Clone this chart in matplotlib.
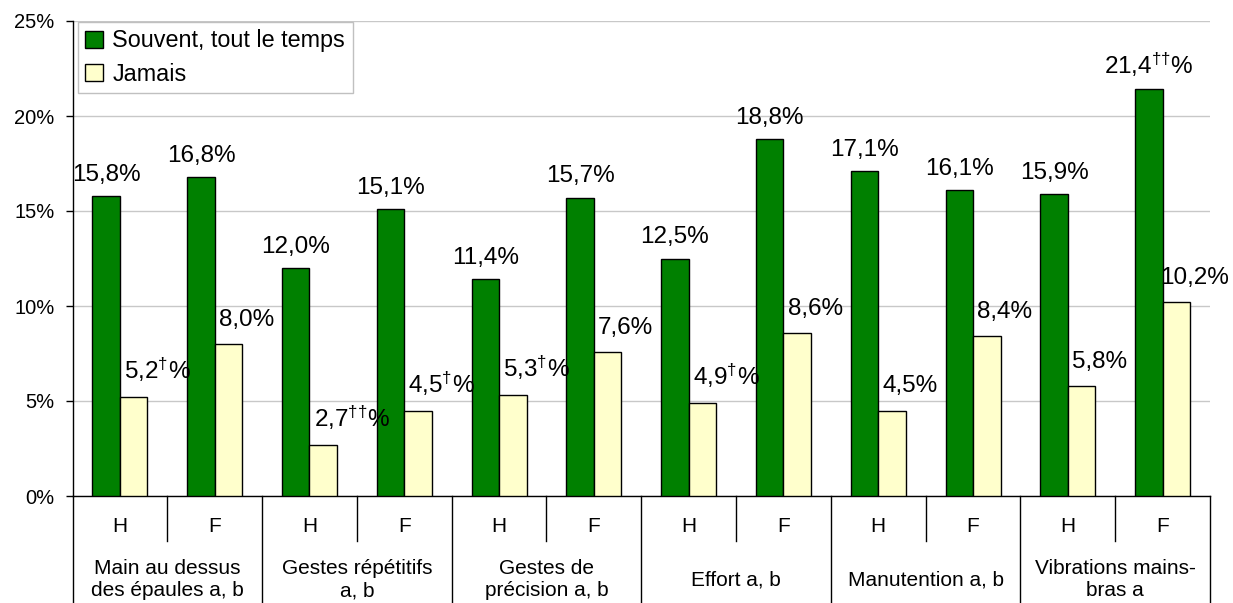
import matplotlib
matplotlib.use("Agg")
import matplotlib.pyplot as plt
import numpy as np

plt.rcParams["font.family"] = ["Liberation Sans", "DejaVu Sans"]
plt.rcParams["mathtext.fontset"] = "custom"
plt.rcParams["mathtext.rm"] = "Liberation Sans"
plt.rcParams["mathtext.it"] = "Liberation Sans"

# DONNÉES
groupes = ["Main au dessus\ndes épaules a, b", "Gestes répétitifs\na, b",
           "Gestes de\nprécision a, b", "Effort a, b", "Manutention a, b",
           "Vibrations mains-\nbras a"]
sexes = ["H", "F"]
souvent = [15.8, 16.8, 12.0, 15.1, 11.4, 15.7, 12.5, 18.8, 17.1, 16.1, 15.9, 21.4]
jamais = [5.2, 8.0, 2.7, 4.5, 5.3, 7.6, 4.9, 8.6, 4.5, 8.4, 5.8, 10.2]
souvent_marque = ["", "", "", "", "", "", "", "", "", "", "", "††"]
jamais_marque = ["†", "", "††", "†", "†", "", "†", "", "", "", "", ""]

W, H = 1233, 603
fig = plt.figure(figsize=(W / 100, H / 100), dpi=100)
left, right, top, bottom = 72.5, 1210, 21, 496
ax = fig.add_axes([left / W, 1 - bottom / H, (right - left) / W, (bottom - top) / H])

x = np.arange(len(souvent))
bw = 0.29
ax.bar(x - bw / 2, souvent, bw, color="#008000", edgecolor="black", lw=1,
       label="Souvent, tout le temps", zorder=3)
ax.bar(x + bw / 2, jamais, bw, color="#FFFFCC", edgecolor="black", lw=1,
       label="Jamais", zorder=3)


def etiquette(v, m):
    s = f"{v:.1f}".replace(".", ",")
    if m:
        s += r"$^{\text{" + m + "}}$"
    return s + "%"


for i in range(len(x)):
    ax.annotate(etiquette(souvent[i], souvent_marque[i]), (x[i] - bw / 2, souvent[i]),
                xytext=(0, 11), textcoords="offset points", ha="center",
                va="baseline", fontsize=17.5)
    # la dernière étiquette touche le bord droit
    dx = 3 if i < len(x) - 1 else -1.5
    ax.annotate(etiquette(jamais[i], jamais_marque[i]), (x[i], jamais[i]),
                xytext=(dx, 13), textcoords="offset points", ha="left",
                va="baseline", fontsize=17.5)

ax.set_xlim(-0.5, len(x) - 0.5)
ax.set_ylim(0, 25)
ax.set_yticks([0, 5, 10, 15, 20, 25])
ax.set_yticklabels([f"{t}%" for t in range(0, 30, 5)])
ax.tick_params(axis="y", length=5, width=1, pad=8, labelsize=14.5, direction="out")
ax.set_xticks([])
ax.grid(axis="y", color="#C8C8C8", lw=1, zorder=0)
ax.set_axisbelow(True)
for s in ["top", "right"]:
    ax.spines[s].set_visible(False)
ax.spines["left"].set_linewidth(1)
ax.spines["bottom"].set_linewidth(1)

# TABLEAU SOUS L'AXE
tr = ax.get_xaxis_transform()
fond = -(H - bottom) / (bottom - top)
sep_court = -(541 - bottom) / (bottom - top)
for b in np.arange(-0.5, len(x), 2):
    ax.plot([b, b], [0, fond], transform=tr, color="black", lw=1, clip_on=False)
for b in np.arange(0.5, len(x), 2):
    ax.plot([b, b], [0, sep_court], transform=tr, color="black", lw=1, clip_on=False)
for i in range(len(x)):
    ax.text(x[i], -(526 - bottom) / (bottom - top), sexes[i % 2], transform=tr,
            ha="center", va="center", fontsize=15)
for g, nom in enumerate(groupes):
    ax.text(2 * g + 0.5, -(580 - bottom) / (bottom - top), nom, transform=tr,
            ha="center", va="center", fontsize=15, linespacing=1.2)

leg = ax.legend(loc="upper left", bbox_to_anchor=(78 / W, 1 - 22 / H),
                bbox_transform=fig.transFigure, borderaxespad=0, fontsize=16.8,
                fancybox=False, framealpha=1, edgecolor="#C0C0C0",
                handlelength=0.75, handleheight=0.75, handletextpad=0.4,
                labelspacing=0.45, borderpad=0.32)
leg.get_frame().set_linewidth(1)

fig.savefig("out.png", dpi=100)
